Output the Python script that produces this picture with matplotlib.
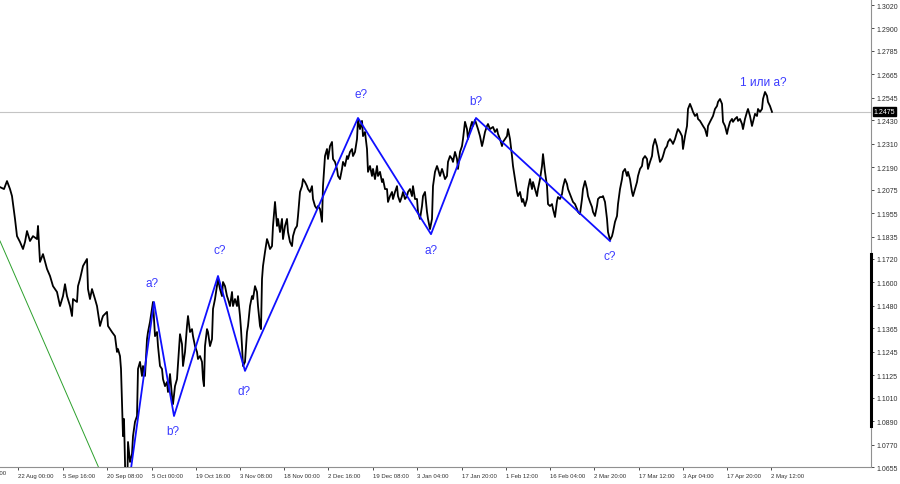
import matplotlib
matplotlib.use("Agg")
import matplotlib.pyplot as plt
from matplotlib import font_manager
from matplotlib.transforms import blended_transform_factory

# ---------------- data ----------------
bar = [0, 4, 7, 10, 12, 15, 17, 20, 23, 25, 27, 30, 33, 37, 38, 40, 43, 47, 50, 53,
       57, 60, 63, 65, 67, 70, 72, 73, 77, 78, 80, 83, 87, 88, 90, 92, 95, 97, 100, 102,
       103, 107, 108, 112, 115, 117, 118, 120, 121, 122, 123, 124, 125, 126, 127, 128, 130, 132, 133, 135,
       137, 138, 140, 142, 143, 145, 147, 148, 150, 152, 153, 155, 157, 158, 160, 162, 163, 165, 167, 168,
       170, 172, 173, 175, 177, 180, 182, 183, 185, 187, 188, 190, 192, 193, 195, 197, 198, 200, 202, 203,
       204, 205, 207, 208, 210, 212, 213, 215, 217, 218, 220, 222, 223, 225, 227, 228, 230, 232, 233, 235,
       237, 238, 240, 241, 242, 243, 245, 247, 248, 250, 252, 253, 255, 257, 258, 260, 261, 262, 263, 265,
       267, 268, 270, 272, 273, 275, 277, 278, 280, 282, 283, 285, 287, 288, 290, 292, 293, 295, 297, 298,
       300, 302, 303, 305, 307, 308, 310, 312, 313, 315, 317, 318, 320, 322, 323, 325, 327, 328, 330, 332,
       333, 335, 337, 338, 340, 342, 343, 345, 347, 348, 350, 352, 353, 355, 357, 358, 360, 362, 363, 365,
       367, 368, 370, 372, 373, 375, 377, 378, 380, 382, 383, 385, 387, 388, 390, 392, 393, 395, 397, 398,
       400, 402, 403, 405, 407, 408, 410, 412, 413, 415, 417, 418, 420, 422, 423, 425, 427, 428, 430, 432,
       433, 435, 437, 438, 440, 442, 443, 445, 447, 448, 450, 452, 453, 455, 457, 458, 460, 462, 463, 465,
       467, 468, 470, 472, 473, 475, 477, 478, 480, 482, 483, 485, 487, 488, 490, 493, 495, 497, 498, 500,
       502, 503, 505, 507, 508, 510, 512, 513, 515, 517, 518, 520, 522, 523, 525, 527, 528, 530, 532, 533,
       535, 537, 538, 540, 542, 543, 545, 547, 548, 550, 552, 553, 555, 557, 558, 560, 562, 563, 565, 567,
       568, 570, 572, 573, 575, 577, 578, 580, 582, 583, 585, 587, 588, 590, 592, 593, 595, 597, 598, 600,
       602, 603, 605, 607, 608, 610, 612, 613, 615, 617, 618, 620, 622, 623, 625, 627, 628, 630, 632, 633,
       635, 637, 638, 640, 642, 643, 645, 647, 648, 650, 652, 653, 655, 657, 658, 660, 662, 663, 665, 667,
       668, 670, 672, 673, 675, 677, 678, 680, 682, 683, 685, 687, 688, 690, 692, 693, 695, 697, 698, 700,
       703, 705, 707, 708, 710, 713, 715, 717, 718, 720, 722, 723, 725, 727, 728, 730, 732, 733, 735, 737,
       738, 740, 742, 743, 745, 747, 748, 750, 752, 753, 755, 757, 758, 760, 762, 763, 765, 767, 768, 770,
       771, 772]

price = [1.2088, 1.2078, 1.2119, 1.2078, 1.2042, 1.1925, 1.1837, 1.1807, 1.1771, 1.1807,
         1.1863, 1.1812, 1.1837, 1.1822, 1.1889, 1.1705, 1.1745, 1.1669, 1.1633, 1.1581,
         1.1551, 1.1479, 1.1530, 1.1591, 1.1530, 1.1479, 1.1428, 1.1515, 1.1500, 1.1581,
         1.1617, 1.1684, 1.1720, 1.1566, 1.1515, 1.1566, 1.1515, 1.1479, 1.1377, 1.1413,
         1.1428, 1.1449, 1.1377, 1.1346, 1.1325, 1.1244, 1.1259, 1.1223, 1.1157, 1.0988,
         1.0813, 1.0901, 1.0681, 1.0380, 1.0460, 1.0783, 1.0681, 1.0721, 1.0813, 1.0886,
         1.0916, 1.1157, 1.1193, 1.1121, 1.1172, 1.1121, 1.1310, 1.1346, 1.1398, 1.1464,
         1.1500, 1.1325, 1.1346, 1.1274, 1.1172, 1.1157, 1.1105, 1.1069, 1.1090, 1.1039,
         1.1131, 1.1018, 1.0977, 1.1069, 1.1105, 1.1335, 1.1284, 1.1172, 1.1244, 1.1377,
         1.1428, 1.1346, 1.1361, 1.1325, 1.1274, 1.1244, 1.1208, 1.1223, 1.1193, 1.1105,
         1.1069, 1.1274, 1.1361, 1.1346, 1.1274, 1.1310, 1.1464, 1.1515, 1.1581, 1.1617,
         1.1566, 1.1530, 1.1602, 1.1581, 1.1530, 1.1515, 1.1479, 1.1551, 1.1479, 1.1515,
         1.1479, 1.1530, 1.1428, 1.1361, 1.1274, 1.1172, 1.1193, 1.1346, 1.1377, 1.1479,
         1.1530, 1.1515, 1.1581, 1.1551, 1.1479, 1.1377, 1.1361, 1.1617, 1.1684, 1.1756,
         1.1822, 1.1807, 1.1771, 1.1786, 1.1889, 1.2012, 1.1889, 1.1925, 1.1858, 1.1925,
         1.1822, 1.1889, 1.1925, 1.1858, 1.1807, 1.1786, 1.1837, 1.1873, 1.1889, 1.1940,
         1.2063, 1.2093, 1.2129, 1.2114, 1.2093, 1.2078, 1.2063, 1.2093, 1.2027, 1.1991,
         1.1976, 1.1991, 1.1976, 1.1910, 1.2093, 1.2247, 1.2283, 1.2232, 1.2298, 1.2319,
         1.2232, 1.2217, 1.2181, 1.2145, 1.2129, 1.2181, 1.2217, 1.2196, 1.2247, 1.2232,
         1.2268, 1.2283, 1.2247, 1.2268, 1.2334, 1.2432, 1.2385, 1.2427, 1.2349, 1.2370,
         1.2283, 1.2166, 1.2196, 1.2145, 1.2181, 1.2129, 1.2196, 1.2145, 1.2166, 1.2114,
         1.2129, 1.2078, 1.2078, 1.2012, 1.2042, 1.2063, 1.2027, 1.2063, 1.2093, 1.2042,
         1.2012, 1.2042, 1.2063, 1.2027, 1.2042, 1.2063, 1.2078, 1.2042, 1.2093, 1.2027,
         1.2027, 1.1961, 1.1925, 1.1991, 1.2042, 1.2063, 1.1961, 1.1925, 1.1873, 1.1925,
         1.2093, 1.2166, 1.2196, 1.2181, 1.2145, 1.2181, 1.2166, 1.2129, 1.2145, 1.2217,
         1.2247, 1.2232, 1.2217, 1.2268, 1.2232, 1.2181, 1.2268, 1.2298, 1.2334, 1.2422,
         1.2385, 1.2334, 1.2385, 1.2422, 1.2401, 1.2432, 1.2401, 1.2385, 1.2349, 1.2298,
         1.2319, 1.2370, 1.2401, 1.2411, 1.2385, 1.2396, 1.2370, 1.2385, 1.2360, 1.2334,
         1.2298, 1.2319, 1.2334, 1.2349, 1.2385, 1.2334, 1.2247, 1.2196, 1.2129, 1.2063,
         1.2042, 1.2063, 1.2012, 1.2027, 1.1991, 1.2027, 1.2078, 1.2129, 1.2078, 1.2114,
         1.2078, 1.2042, 1.2078, 1.2129, 1.2196, 1.2257, 1.2166, 1.2093, 1.2001, 1.1991,
         1.2001, 1.1976, 1.1935, 1.2017, 1.2037, 1.2027, 1.2052, 1.2088, 1.2129, 1.2104,
         1.2078, 1.2052, 1.2027, 1.2012, 1.2001, 1.1976, 1.1961, 1.1950, 1.2027, 1.2078,
         1.2119, 1.2078, 1.2042, 1.2012, 1.1986, 1.1961, 1.1940, 1.1991, 1.2027, 1.2037,
         1.2037, 1.2042, 1.2012, 1.1925, 1.1858, 1.1817, 1.1837, 1.1858, 1.1910, 1.1940,
         1.2001, 1.2078, 1.2129, 1.2166, 1.2181, 1.2145, 1.2166, 1.2129, 1.2063, 1.2042,
         1.2078, 1.2114, 1.2145, 1.2181, 1.2196, 1.2232, 1.2247, 1.2232, 1.2181, 1.2217,
         1.2247, 1.2298, 1.2334, 1.2298, 1.2268, 1.2217, 1.2232, 1.2247, 1.2283, 1.2298,
         1.2319, 1.2334, 1.2319, 1.2309, 1.2334, 1.2370, 1.2385, 1.2370, 1.2349, 1.2283,
         1.2349, 1.2401, 1.2488, 1.2514, 1.2488, 1.2473, 1.2452, 1.2463, 1.2437, 1.2427,
         1.2401, 1.2385, 1.2349, 1.2401, 1.2422, 1.2452, 1.2488, 1.2503, 1.2524, 1.2539,
         1.2514, 1.2422, 1.2401, 1.2360, 1.2385, 1.2422, 1.2437, 1.2422, 1.2437, 1.2447,
         1.2427, 1.2437, 1.2411, 1.2385, 1.2437, 1.2473, 1.2488, 1.2452, 1.2401, 1.2422,
         1.2463, 1.2452, 1.2488, 1.2473, 1.2488, 1.2539, 1.2575, 1.2555, 1.2524, 1.2503,
         1.2488, 1.2473]

# Elliott wave markup (blue zig-zag) and its labels
wave_bar = [123, 154, 174, 218, 245, 358, 431, 476, 610]
wave_price = [1.0350, 1.1500, 1.0916, 1.1633, 1.1147, 1.2442, 1.1847, 1.2442, 1.1812]

label_text = ["a?", "b?", "c?", "d?", "e?", "a?", "b?", "c?", "1 или a?"]
label_bar = [152, 173, 220, 244, 361, 431, 476, 610, 763]
label_price = [1.1597, 1.0839, 1.1766, 1.1044, 1.2565, 1.1766, 1.2529, 1.1735, 1.2626]

# green trend line
trend_bar = [0, 110]
trend_price = [1.1812, 1.0519]

last_price = 1.2475

y_ticks = [1.3020, 1.2900, 1.2785, 1.2665, 1.2545, 1.2430, 1.2310, 1.2190, 1.2075,
           1.1955, 1.1835, 1.1720, 1.1600, 1.1480, 1.1365, 1.1245, 1.1125, 1.1010,
           1.0890, 1.0770, 1.0655]

x_tick_bar = [18, 63, 107, 152, 196, 240, 284, 328, 373, 417, 462, 506, 550, 594,
              639, 683, 727, 771]
x_tick_labels = ["22 Aug 00:00", "5 Sep 16:00", "20 Sep 08:00", "5 Oct 00:00",
                 "19 Oct 16:00", "3 Nov 08:00", "18 Nov 00:00", "2 Dec 16:00",
                 "19 Dec 08:00", "3 Jan 04:00", "17 Jan 20:00", "1 Feb 12:00",
                 "16 Feb 04:00", "2 Mar 20:00", "17 Mar 12:00", "3 Apr 04:00",
                 "17 Apr 20:00", "2 May 12:00"]
first_partial_label = "7 Aug 08:00"
first_partial_bar = -26

# ---------------- fonts ----------------
available = {f.name for f in font_manager.fontManager.ttflist}
def pick(*names):
    for n in names:
        if n in available:
            return n
    return "DejaVu Sans"

narrow = pick("Liberation Sans Narrow", "DejaVu Sans Condensed", "Liberation Sans")
xfs = 5.0 if narrow != "Liberation Sans" else 4.3
plain = pick("Liberation Sans", "DejaVu Sans")

# ---------------- figure ----------------
fig = plt.figure(figsize=(9.0, 4.85), dpi=100)
ax = fig.add_axes([0.0, 17 / 485, 871 / 900, 468 / 485])
ax.set_xlim(0, 871)
ax.set_ylim(1.0655, 1.3051)

ax.axhline(last_price, color="#c4c4c4", lw=0.8, zorder=1)
ax.plot(trend_bar, trend_price, color="#2ca02c", lw=0.7, zorder=2)
ax.plot(bar, price, color="black", lw=1.3, zorder=3)
ax.plot(wave_bar, wave_price, color="#1010ff", lw=1.3, zorder=4)

for t, xb, yp in zip(label_text, label_bar, label_price):
    ax.text(xb, yp, t, color="#3a3aff", fontsize=8.5, family=[plain, "DejaVu Sans"],
            ha="center", va="center", zorder=5)

for s in ["left", "top"]:
    ax.spines[s].set_visible(False)
for s in ["right", "bottom"]:
    ax.spines[s].set_color("#909090")
    ax.spines[s].set_linewidth(0.8)

ax.yaxis.tick_right()
ax.set_yticks(y_ticks)
ax.set_yticklabels([f"{v:.4f}" for v in y_ticks], fontsize=5.0, family=plain)
ax.tick_params(axis="y", direction="out", length=2.5, width=0.6, pad=1.5,
               colors="#303030")
ax.set_xticks(x_tick_bar)
ax.set_xticklabels(x_tick_labels, fontsize=xfs, family=narrow, ha="left")
ax.tick_params(axis="x", direction="out", length=2.5, width=0.6, pad=2,
               colors="#303030")

ax.text(first_partial_bar, -0.006, first_partial_label, transform=blended_transform_factory(ax.transData, ax.transAxes),
        fontsize=xfs, family=narrow, ha="left", va="top", color="#303030", clip_on=False)

# current price marker on the scale
yt = blended_transform_factory(ax.transAxes, ax.transData)
ax.text(1.003, last_price, "1.2475", transform=yt, fontsize=5.0, family=plain,
        color="white", ha="left", va="center", zorder=6, clip_on=False,
        bbox=dict(boxstyle="square,pad=0.15", fc="black", ec="black"))

# thick segment on the price scale
ax.plot([1.0, 1.0], [1.0865, 1.1745], transform=yt, color="black", lw=2.2,
        clip_on=False, zorder=6)

fig.savefig("out.png", dpi=100)
